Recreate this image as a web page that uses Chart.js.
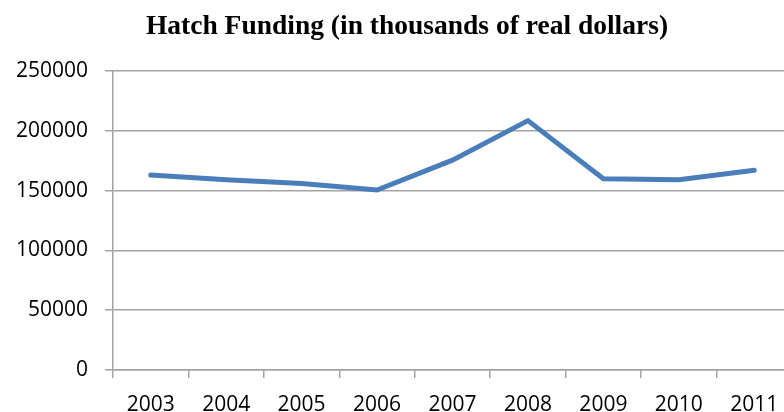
<!DOCTYPE html>
<html>
<head>
<meta charset="utf-8">
<script src="https://cdn.jsdelivr.net/npm/chart.js@4/dist/chart.umd.min.js"></script>
<style>
  html, body { margin: 0; padding: 0; background: #fff; overflow: hidden; }
  #wrap { width: 784px; height: 412px; overflow: hidden; }
  #box { width: 815px; height: 412px; }
</style>
</head>
<body>
<div id="wrap"><div id="box"><canvas id="chart"></canvas></div></div>
<script>
// data
const years = ['2003', '2004', '2005', '2006', '2007', '2008', '2009', '2010', '2011'];
const funding = [163000, 159000, 156000, 150500, 175500, 208500, 160000, 159000, 167000];
const yTicks = [0, 50000, 100000, 150000, 200000, 250000];

const gridColor = '#a3a3a3';

// the title in the reference sits a little right of the box centre
const titleShift = {
  id: 'titleShift',
  afterLayout(chart) {
    if (chart.titleBlock) {
      chart.titleBlock.left += 11;
      chart.titleBlock.right += 11;
    }
  }
};

const canvas = document.getElementById('chart');
canvas.chart = new Chart(canvas, {
  type: 'line',
  data: {
    labels: years,
    datasets: [{
      label: 'Hatch Funding',
      data: funding,
      borderColor: '#4a7ebb',
      borderWidth: 5,
      pointRadius: 0,
      tension: 0,
      fill: false,
      borderCapStyle: 'round',
      borderJoinStyle: 'miter'
    }]
  },
  options: {
    responsive: true,
    maintainAspectRatio: false,
    animation: false,
    layout: { padding: { left: 0, right: 23, top: 0, bottom: 0 } },
    plugins: {
      legend: { display: false },
      tooltip: { enabled: false },
      title: {
        display: true,
        text: 'Hatch Funding (in thousands of real dollars)',
        color: '#000',
        font: { family: '"Liberation Serif", "Times New Roman", serif', size: 27.5, weight: 'bold' },
        padding: { top: 10, bottom: 28 }
      }
    },
    scales: {
      x: {
        type: 'category',
        offset: true,
        afterFit: (axis) => { axis.height = 42; },
        grid: {
          offset: true,
          drawOnChartArea: false,
          drawTicks: true,
          tickLength: 8,
          color: gridColor,
          lineWidth: 1.5
        },
        border: { display: true, color: gridColor, width: 1.5 },
        ticks: {
          color: '#000',
          padding: 14,
          maxRotation: 0,
          autoSkip: false,
          font: { family: '"Open Sans", sans-serif', size: 21 }
        }
      },
      y: {
        min: 0,
        max: 250000,
        afterFit: (axis) => { axis.width = 113; },
        afterBuildTicks: (axis) => { axis.ticks = yTicks.map(v => ({ value: v })); },
        grid: {
          drawTicks: true,
          tickLength: 8,
          color: gridColor,
          lineWidth: 1.5
        },
        border: { display: true, color: gridColor, width: 1.5 },
        ticks: {
          color: '#000',
          padding: 17,
          font: { family: '"Open Sans", sans-serif', size: 21 },
          callback: (v) => String(v)
        }
      }
    }
  },
  plugins: [titleShift]
});
</script>
</body>
</html>
